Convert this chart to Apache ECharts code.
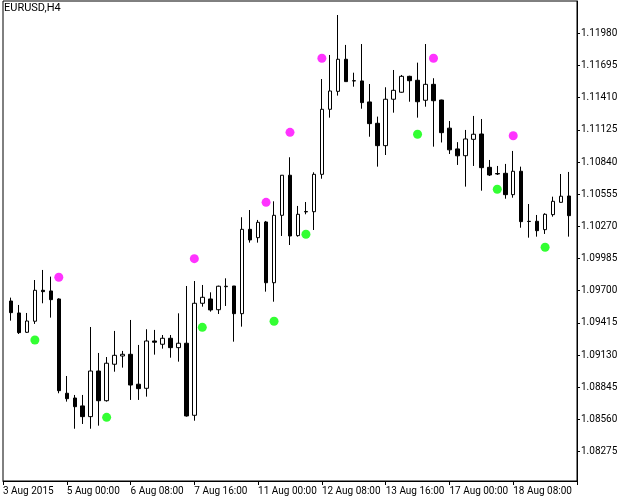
<!DOCTYPE html>
<html><head><meta charset="utf-8">
<script src="https://cdn.jsdelivr.net/npm/echarts@6/dist/echarts.min.js"></script>
<style>html,body{margin:0;padding:0;background:#fff}#c{width:629px;height:502px}</style>
</head><body><div id="c"></div><script>
const categories = [
"3 Aug 16:00","3 Aug 20:00",
"4 Aug 00:00","4 Aug 04:00","4 Aug 08:00","4 Aug 12:00","4 Aug 16:00","4 Aug 20:00",
"5 Aug 00:00","5 Aug 04:00","5 Aug 08:00","5 Aug 12:00","5 Aug 16:00","5 Aug 20:00",
"6 Aug 00:00","6 Aug 04:00","6 Aug 08:00","6 Aug 12:00","6 Aug 16:00","6 Aug 20:00",
"7 Aug 00:00","7 Aug 04:00","7 Aug 08:00","7 Aug 12:00","7 Aug 16:00","7 Aug 20:00",
"10 Aug 00:00","10 Aug 04:00","10 Aug 08:00","10 Aug 12:00","10 Aug 16:00","10 Aug 20:00",
"11 Aug 00:00","11 Aug 04:00","11 Aug 08:00","11 Aug 12:00","11 Aug 16:00","11 Aug 20:00",
"12 Aug 00:00","12 Aug 04:00","12 Aug 08:00","12 Aug 12:00","12 Aug 16:00","12 Aug 20:00",
"13 Aug 00:00","13 Aug 04:00","13 Aug 08:00","13 Aug 12:00","13 Aug 16:00","13 Aug 20:00",
"14 Aug 00:00","14 Aug 04:00","14 Aug 08:00","14 Aug 12:00","14 Aug 16:00","14 Aug 20:00",
"17 Aug 00:00","17 Aug 04:00","17 Aug 08:00","17 Aug 12:00","17 Aug 16:00","17 Aug 20:00",
"18 Aug 00:00","18 Aug 04:00","18 Aug 08:00","18 Aug 12:00","18 Aug 16:00","18 Aug 20:00",
"19 Aug 00:00","19 Aug 04:00","19 Aug 08:00","19 Aug 12:00","19 Aug 16:00"
];
// first bar is "3 Aug 20:00" (category 1)
const firstBarIndex = 1;
const opens = [
1.09609,1.09503,1.09332,1.09430,1.09704,1.09698,1.09627,1.08792,1.08750,1.08680,
1.08585,1.08989,1.08726,1.09049,1.09122,1.09137,1.08872,1.08836,1.09255,1.09226,
1.09279,1.09196,1.09235,1.08597,1.09589,1.09627,1.09532,1.09736,1.09742,1.09497,
1.10244,1.10170,1.10309,1.09771,1.10368,1.10723,1.10188,1.10398,1.10400,1.10731,
1.11307,1.11466,1.11750,1.11560,1.11558,1.11372,1.11183,1.10985,1.11396,1.11458,
1.11599,1.11564,1.11387,1.11528,1.11389,1.11140,1.10956,1.10896,1.11041,1.11088,
1.10793,1.10738,1.10740,1.10551,1.10758,1.10315,1.10315,1.10241,1.10374,1.10483,
1.10539
];
const closes = [
1.09506,1.09329,1.09432,1.09704,1.09692,1.09621,1.08815,1.08744,1.08673,1.08585,
1.08989,1.08726,1.09058,1.09128,1.09137,1.08865,1.08833,1.09255,1.09244,1.09279,
1.09196,1.09235,1.08591,1.09589,1.09642,1.09530,1.09740,1.09740,1.09497,1.10244,
1.10150,1.10306,1.09771,1.10368,1.10723,1.10185,1.10377,1.10402,1.10731,1.11307,
1.11469,1.11750,1.11552,1.11558,1.11366,1.11180,1.10985,1.11396,1.11475,1.11599,
1.11560,1.11374,1.11528,1.11383,1.11100,1.10948,1.10895,1.11044,1.11086,1.10790,
1.10725,1.10734,1.10551,1.10758,1.10312,1.10313,1.10232,1.10377,1.10492,1.10537,
1.10365
];
const highs = [
1.09639,1.09574,1.09503,1.09795,1.09884,1.09825,1.09633,1.08945,1.08777,1.08777,
1.09379,1.09149,1.09113,1.09344,1.09167,1.09441,1.09220,1.09359,1.09353,1.09308,
1.09308,1.09500,1.09742,1.09786,1.09751,1.09686,1.09745,1.09810,1.09742,1.10351,
1.10415,1.10327,1.10318,1.10492,1.10725,1.10882,1.10451,1.10486,1.10749,1.11575,
1.11788,1.12142,1.11877,1.11631,1.11885,1.11531,1.11242,1.11502,1.11655,1.11611,
1.11604,1.11720,1.11885,1.11582,1.11392,1.11203,1.11016,1.11124,1.11248,1.11221,
1.10858,1.10805,1.10823,1.10938,1.10799,1.10468,1.10371,1.10386,1.10533,1.10734,
1.10752
];
const lows = [
1.09435,1.09317,1.09326,1.09406,1.09589,1.09462,1.08792,1.08718,1.08478,1.08520,
1.08478,1.08505,1.08718,1.08983,1.09019,1.08733,1.08733,1.08762,1.09134,1.09187,
1.09107,1.09072,1.08585,1.08549,1.09559,1.09515,1.09494,1.09565,1.09249,1.09382,
1.10126,1.10126,1.09692,1.09603,1.10185,1.10105,1.10179,1.10377,1.10238,1.10692,
1.11233,1.11428,1.11552,1.11507,1.11312,1.11064,1.10799,1.10902,1.11277,1.11454,
1.11374,1.11233,1.11330,1.10976,1.11013,1.10911,1.10814,1.10622,1.10805,1.10586,
1.10716,1.10725,1.10515,1.10524,1.10258,1.10170,1.10179,1.10203,1.10356,1.10480,
1.10179
];
// indicator dots: bar number (0 = first bar) and price
const upperDotBars   = [6, 23, 32, 35, 39, 53, 63];
const upperDotValues = [1.09819, 1.09984, 1.10483, 1.11103, 1.11759, 1.11759, 1.11073];
const lowerDotBars   = [3, 12, 24, 33, 37, 51, 61, 67];
const lowerDotValues = [1.09264, 1.08579, 1.09376, 1.09430, 1.10200, 1.11086, 1.10599, 1.10085];

const yTickValues = [1.08275,1.08560,1.08845,1.09130,1.09415,1.09700,1.09985,1.10270,1.10555,1.10840,1.11125,1.11410,1.11695,1.11980];
const xTickLabels = ["3 Aug 2015","5 Aug 00:00","6 Aug 08:00","7 Aug 16:00","11 Aug 00:00","12 Aug 08:00","13 Aug 16:00","17 Aug 00:00","18 Aug 08:00"];
const yMin = 1.08015, yMax = 1.12266;

const candleData = categories.map((c, i) => {
  const k = i - firstBarIndex;
  if (k < 0 || k >= opens.length) return '-';
  return [opens[k], closes[k], lows[k], highs[k]];
});
const upperData = upperDotBars.map((b, j) => [b + firstBarIndex, upperDotValues[j]]);
const lowerData = lowerDotBars.map((b, j) => [b + firstBarIndex, lowerDotValues[j]]);

const FONT = 'Roboto, "Liberation Sans", sans-serif';
const chart = echarts.init(document.getElementById('c'), null, {renderer: 'canvas'});
chart.setOption({
  animation: false,
  backgroundColor: '#ffffff',
  title: {
    text: 'EURUSD,H4', left: 4, top: 3, padding: 0,
    textStyle: {fontSize: 11, fontWeight: 'normal', color: '#000', fontFamily: FONT}
  },
  grid: {left: 2, top: 1, width: 575, height: 480, show: true, borderColor: '#000', borderWidth: 1, backgroundColor: '#fff'},
  xAxis: {
    type: 'category', data: categories, boundaryGap: false,
    axisLine: {show: true, lineStyle: {color: '#000', width: 1}},
    axisTick: {show: true, interval: 7, length: 4, lineStyle: {color: '#000'}},
    axisLabel: {
      show: true, interval: 7, align: 'left', margin: 5,
      fontSize: 10, color: '#000', fontFamily: FONT,
      formatter: (v, idx) => xTickLabels[Math.round(idx / 8)] || ''
    },
    splitLine: {show: false}
  },
  yAxis: {
    type: 'value', position: 'right', min: yMin, max: yMax, scale: true,
    axisLine: {show: true, lineStyle: {color: '#000', width: 1}},
    axisTick: {show: true, length: 3, customValues: yTickValues, lineStyle: {color: '#000'}},
    axisLabel: {
      show: true, margin: 4, fontSize: 10, color: '#000', fontFamily: FONT,
      customValues: yTickValues, formatter: v => Number(v).toFixed(5)
    },
    splitLine: {show: false}
  },
  series: [
    {
      type: 'candlestick', data: candleData, barWidth: 4,
      itemStyle: {color: '#ffffff', color0: '#000000', borderColor: '#000000', borderColor0: '#000000', borderWidth: 1},
      emphasis: {disabled: true}
    },
    {
      type: 'scatter', data: upperData, symbol: 'circle', symbolSize: 9,
      itemStyle: {color: '#ff00ff'}, emphasis: {disabled: true}, z: 3
    },
    {
      type: 'scatter', data: lowerData, symbol: 'circle', symbolSize: 9,
      itemStyle: {color: '#00ff00'}, emphasis: {disabled: true}, z: 3
    }
  ]
});
</script></body></html>
